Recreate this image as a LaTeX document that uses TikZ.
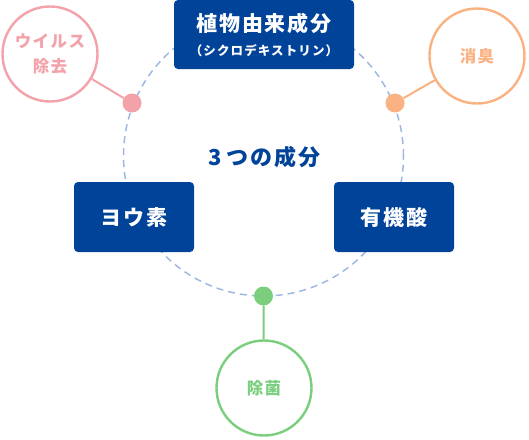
\documentclass[tikz,border=0pt]{standalone}
\usepackage{fontspec}
\setmainfont{Noto Sans CJK JP}
\newfontfamily\jpls{Noto Sans CJK JP}[LetterSpace=9]
\definecolor{navy}{RGB}{0,67,153}
\definecolor{dashc}{RGB}{160,184,224}
\definecolor{pinkc}{RGB}{244,162,170}
\definecolor{orangec}{RGB}{251,178,130}
\definecolor{greenc}{RGB}{122,206,126}
\begin{document}
\begin{tikzpicture}[x=1pt,y=-1pt,
  box/.style={fill=navy, rounded corners=4pt, text=white, inner sep=0pt, align=center,
    font=\jpls\bfseries\fontsize{21}{24}\selectfont},
  ring/.style={circle, draw=#1, text=#1, line width=2.4pt, fill=white, minimum size=95pt,
    inner sep=0pt, align=center, font=\jpls\bfseries\fontsize{16.5}{25}\selectfont},
  dotnode/.style={circle, fill=#1, inner sep=0pt, minimum size=19pt},
  link/.style={draw=#1, line width=2pt}]
\useasboundingbox (0,0) rectangle (529,439);
\coordinate (c) at (263.5,156);
\draw[dashc, line width=1.5pt, dash pattern=on 7pt off 5pt] (c) circle[radius=140pt];
\node[font=\jpls\bfseries\fontsize{22}{24}\selectfont, text=navy] (title) at (264.5,157) {3\hspace{5pt}つの成分};
\node[box, minimum width=180pt, minimum height=69pt] (top) at (264,34.5)
  {植物由来成分\\{\fontsize{12.5}{24}\selectfont （シクロデキストリン）}};
\node[box, minimum width=120pt, minimum height=70pt] (left) at (134,217) {ヨウ素};
\node[box, minimum width=120pt, minimum height=70pt] (right) at (394,217) {有機酸};
\node[ring=pinkc] (pr) at (50,54) {ウイルス\\除去};
\node[ring=orangec] (or) at (477,56) {消臭};
\node[ring=greenc] (gr) at (264,388) {除菌};
\node[dotnode=pinkc] (pd) at (132,103) {};
\node[dotnode=orangec] (od) at (395,103) {};
\node[dotnode=greenc] (gd) at (263.5,296) {};
\draw[link=pinkc] (pr) -- (pd);
\draw[link=orangec] (or) -- (od);
\draw[link=greenc] (gd) -- (gr);
\end{tikzpicture}
\end{document}
